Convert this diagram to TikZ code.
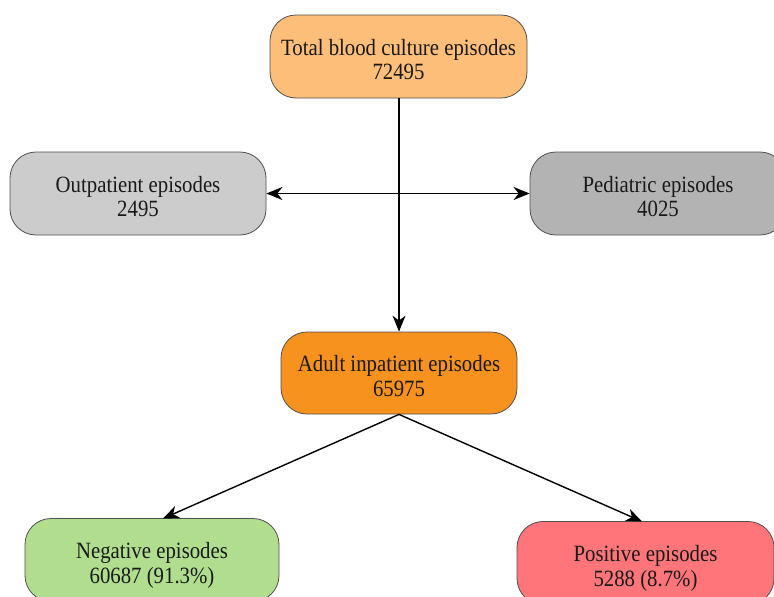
\documentclass[tikz,border=0pt]{standalone}
\usepackage{fontspec}
\setmainfont{Liberation Serif}
\usetikzlibrary{arrows.meta}
\definecolor{ctotal}{RGB}{253,190,122}
\definecolor{cadult}{RGB}{247,146,30}
\definecolor{cout}{RGB}{204,204,204}
\definecolor{cped}{RGB}{179,179,179}
\definecolor{cneg}{RGB}{176,222,142}
\definecolor{cpos}{RGB}{255,117,122}
\definecolor{cborder}{RGB}{80,80,80}
\newcommand{\twoline}[2]{\raisebox{0pt}[\dimexpr\height+12pt\relax][\depth]{\scalebox{1}[1.12]{\begin{tabular}{@{}c@{}}#1\\#2\end{tabular}}}}
\tikzset{
  box/.style={draw=cborder, line width=0.8pt, rounded corners=26pt, align=center,
    font=\fontsize{20.8}{22}\selectfont, text=black!90, inner sep=0pt},
  conn/.style={line width=1.4pt, black},
  tip/.style={-{Stealth[length=16pt,width=13pt,inset=5pt]}}
}
\begin{document}
\begin{tikzpicture}[x=1pt,y=-1pt]
\useasboundingbox (0,0) rectangle (774,597);
\node[box, fill=ctotal, minimum width=257pt, minimum height=83pt] (total) at (398.5,56.5) {\twoline{Total blood culture episodes}{72495}};
\node[box, fill=cout, minimum width=256pt, minimum height=83pt] (out) at (138,193.5) {\twoline{Outpatient episodes}{2495}};
\node[box, fill=cped, minimum width=256pt, minimum height=83pt] (ped) at (658,193.5) {\twoline{Pediatric episodes}{4025}};
\node[box, fill=cadult, minimum width=236pt, minimum height=82pt] (adult) at (399,373) {\twoline{Adult inpatient episodes}{65975}};
\node[box, fill=cneg, minimum width=254pt, minimum height=83pt] (neg) at (152,560) {\twoline{Negative episodes}{60687 (91.3\%)}};
\node[box, fill=cpos, minimum width=257pt, minimum height=83pt] (pos) at (645.5,563) {\twoline{Positive episodes}{5288 (8.7\%)}};
\coordinate (branch) at (399,193.5);
\draw[conn, tip] (total.south -| adult.north) -- (adult.north);
\draw[conn, tip] (branch) -- (out.east);
\draw[conn, tip] (branch) -- (ped.west);
\draw[conn, tip] (adult.south) -- (163,518.5) coordinate (negtop);
\draw[conn, tip] (adult.south) -- (642,521.5) coordinate (postop);
\end{tikzpicture}
\end{document}
